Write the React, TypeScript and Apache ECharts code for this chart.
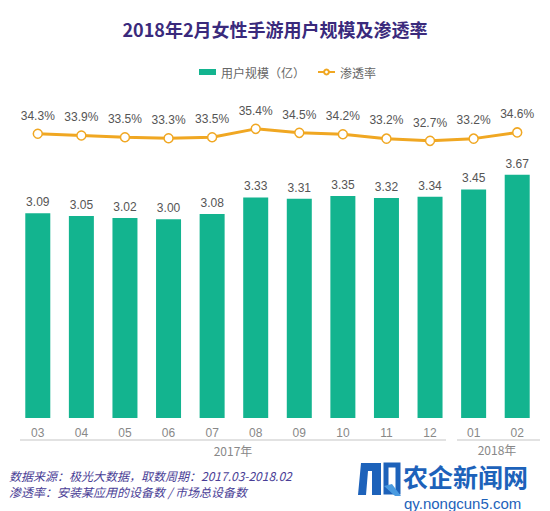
import React, { useEffect, useRef } from "react";
import * as echarts from "echarts";

const months = ["03", "04", "05", "06", "07", "08", "09", "10", "11", "12", "01", "02"];
const users = [3.09, 3.05, 3.02, 3.0, 3.08, 3.33, 3.31, 3.35, 3.32, 3.34, 3.45, 3.67];
const penetration = [34.3, 33.9, 33.5, 33.3, 33.5, 35.4, 34.5, 34.2, 33.2, 32.7, 33.2, 34.6];
const yearLabels = ["2017年", "2018年"];
const seriesNames = ["用户规模（亿）", "渗透率"];
const titleText = "2018年2月女性手游用户规模及渗透率";
const footLines = ["数据来源：极光大数据，取数周期：2017.03-2018.02", "渗透率：安装某应用的设备数 / 市场总设备数"];

const FONT = "'Liberation Sans', 'Noto Sans CJK SC', sans-serif";
const CJK = "'Noto Sans CJK SC', 'Liberation Sans', sans-serif";
const GREEN = "#13B48F";
const ORANGE = "#F0A722";
const BLUE = "#1D62BA";

export default function App() {
  const ref = useRef<HTMLDivElement>(null);
  useEffect(() => {
    if (!ref.current) return;
    const chart = echarts.init(ref.current, undefined, { renderer: "svg" });
    chart.setOption({
      animation: false,
      backgroundColor: "#ffffff",
      title: {
        text: titleText,
        left: "center",
        top: 15,
        textStyle: { fontFamily: CJK, fontSize: 18, fontWeight: "bold", color: "#3A2A7C" },
      },
      legend: {
        top: 61,
        left: 194,
        itemGap: 12,
        textStyle: { fontFamily: CJK, fontSize: 12, color: "#666" },
        data: [
          { name: seriesNames[0], icon: "rect", itemStyle: { color: GREEN } },
          { name: seriesNames[1] },
        ],
        itemWidth: 17,
        itemHeight: 6,
      },
      grid: { left: 16, right: 11, top: 100, bottom: 93 },
      xAxis: {
        type: "category",
        data: months,
        axisLine: { show: false },
        axisTick: { show: false },
        axisLabel: { color: "#888", fontSize: 12, fontFamily: FONT, margin: 9 },
      },
      yAxis: [
        { type: "value", min: 0, max: 4.8, show: false },
        { type: "value", min: -29.7, max: 41.9, show: false },
      ],
      series: [
        {
          name: seriesNames[0],
          type: "bar",
          data: users,
          barWidth: 25,
          itemStyle: { color: GREEN },
          label: {
            show: true,
            position: "top",
            distance: 5,
            color: "#555",
            fontSize: 12,
            fontFamily: FONT,
            formatter: (p: any) => p.value.toFixed(2),
          },
        },
        {
          name: seriesNames[1],
          type: "line",
          yAxisIndex: 1,
          data: penetration,
          symbol: "circle",
          symbolSize: 9,
          lineStyle: { color: ORANGE, width: 3 },
          itemStyle: { color: "#fff", borderColor: ORANGE, borderWidth: 1.5 },
          label: {
            show: true,
            position: "top",
            distance: 7,
            color: "#555",
            fontSize: 12,
            fontFamily: FONT,
            formatter: (p: any) => p.value.toFixed(1) + "%",
          },
        },
      ],
      graphic: [
        { type: "line", shape: { x1: 20, y1: 440, x2: 446, y2: 440 }, style: { stroke: "#d8d8d8", lineWidth: 1.5 } },
        { type: "line", shape: { x1: 457, y1: 440, x2: 540, y2: 440 }, style: { stroke: "#d8d8d8", lineWidth: 1.5 } },
        { type: "text", x: 233, y: 450, style: { text: yearLabels[0], fill: "#888", fontSize: 12, fontFamily: CJK, align: "center", verticalAlign: "middle" } },
        { type: "text", x: 497, y: 449, style: { text: yearLabels[1], fill: "#888", fontSize: 12, fontFamily: CJK, align: "center", verticalAlign: "middle" } },
        { type: "text", x: 9, y: 475, style: { text: footLines[0], fill: "#4A3E96", fontSize: 12, fontStyle: "italic", fontFamily: CJK, verticalAlign: "middle" } },
        { type: "text", x: 9, y: 491, style: { text: footLines[1], fill: "#4A3E96", fontSize: 12, fontStyle: "italic", fontFamily: CJK, verticalAlign: "middle" } },
        { type: "polygon", shape: { points: [[358, 495], [361, 463], [381, 463], [381, 495], [372, 495], [372, 471], [368, 471], [366, 495]] }, style: { fill: BLUE } },
        { type: "rect", shape: { x: 386, y: 465, width: 12, height: 27 }, style: { fill: "none", stroke: BLUE, lineWidth: 5 } },
        { type: "polygon", shape: { points: [[384, 486], [392, 484], [401, 496], [395, 496]] }, style: { fill: "#4A9BE0" } },
        { type: "text", x: 403, y: 476, style: { text: "农企新闻网", fill: BLUE, fontSize: 25, fontWeight: "bold", fontFamily: CJK, verticalAlign: "middle" } },
        { type: "text", x: 404, y: 503, style: { text: "qy.nongcun5.com", fill: BLUE, fontSize: 15, fontFamily: FONT, verticalAlign: "middle" } },
      ],
    });
    return () => chart.dispose();
  }, []);
  return <div ref={ref} style={{ width: 550, height: 511, position: "absolute", left: 0, top: 0 }} />;
}
